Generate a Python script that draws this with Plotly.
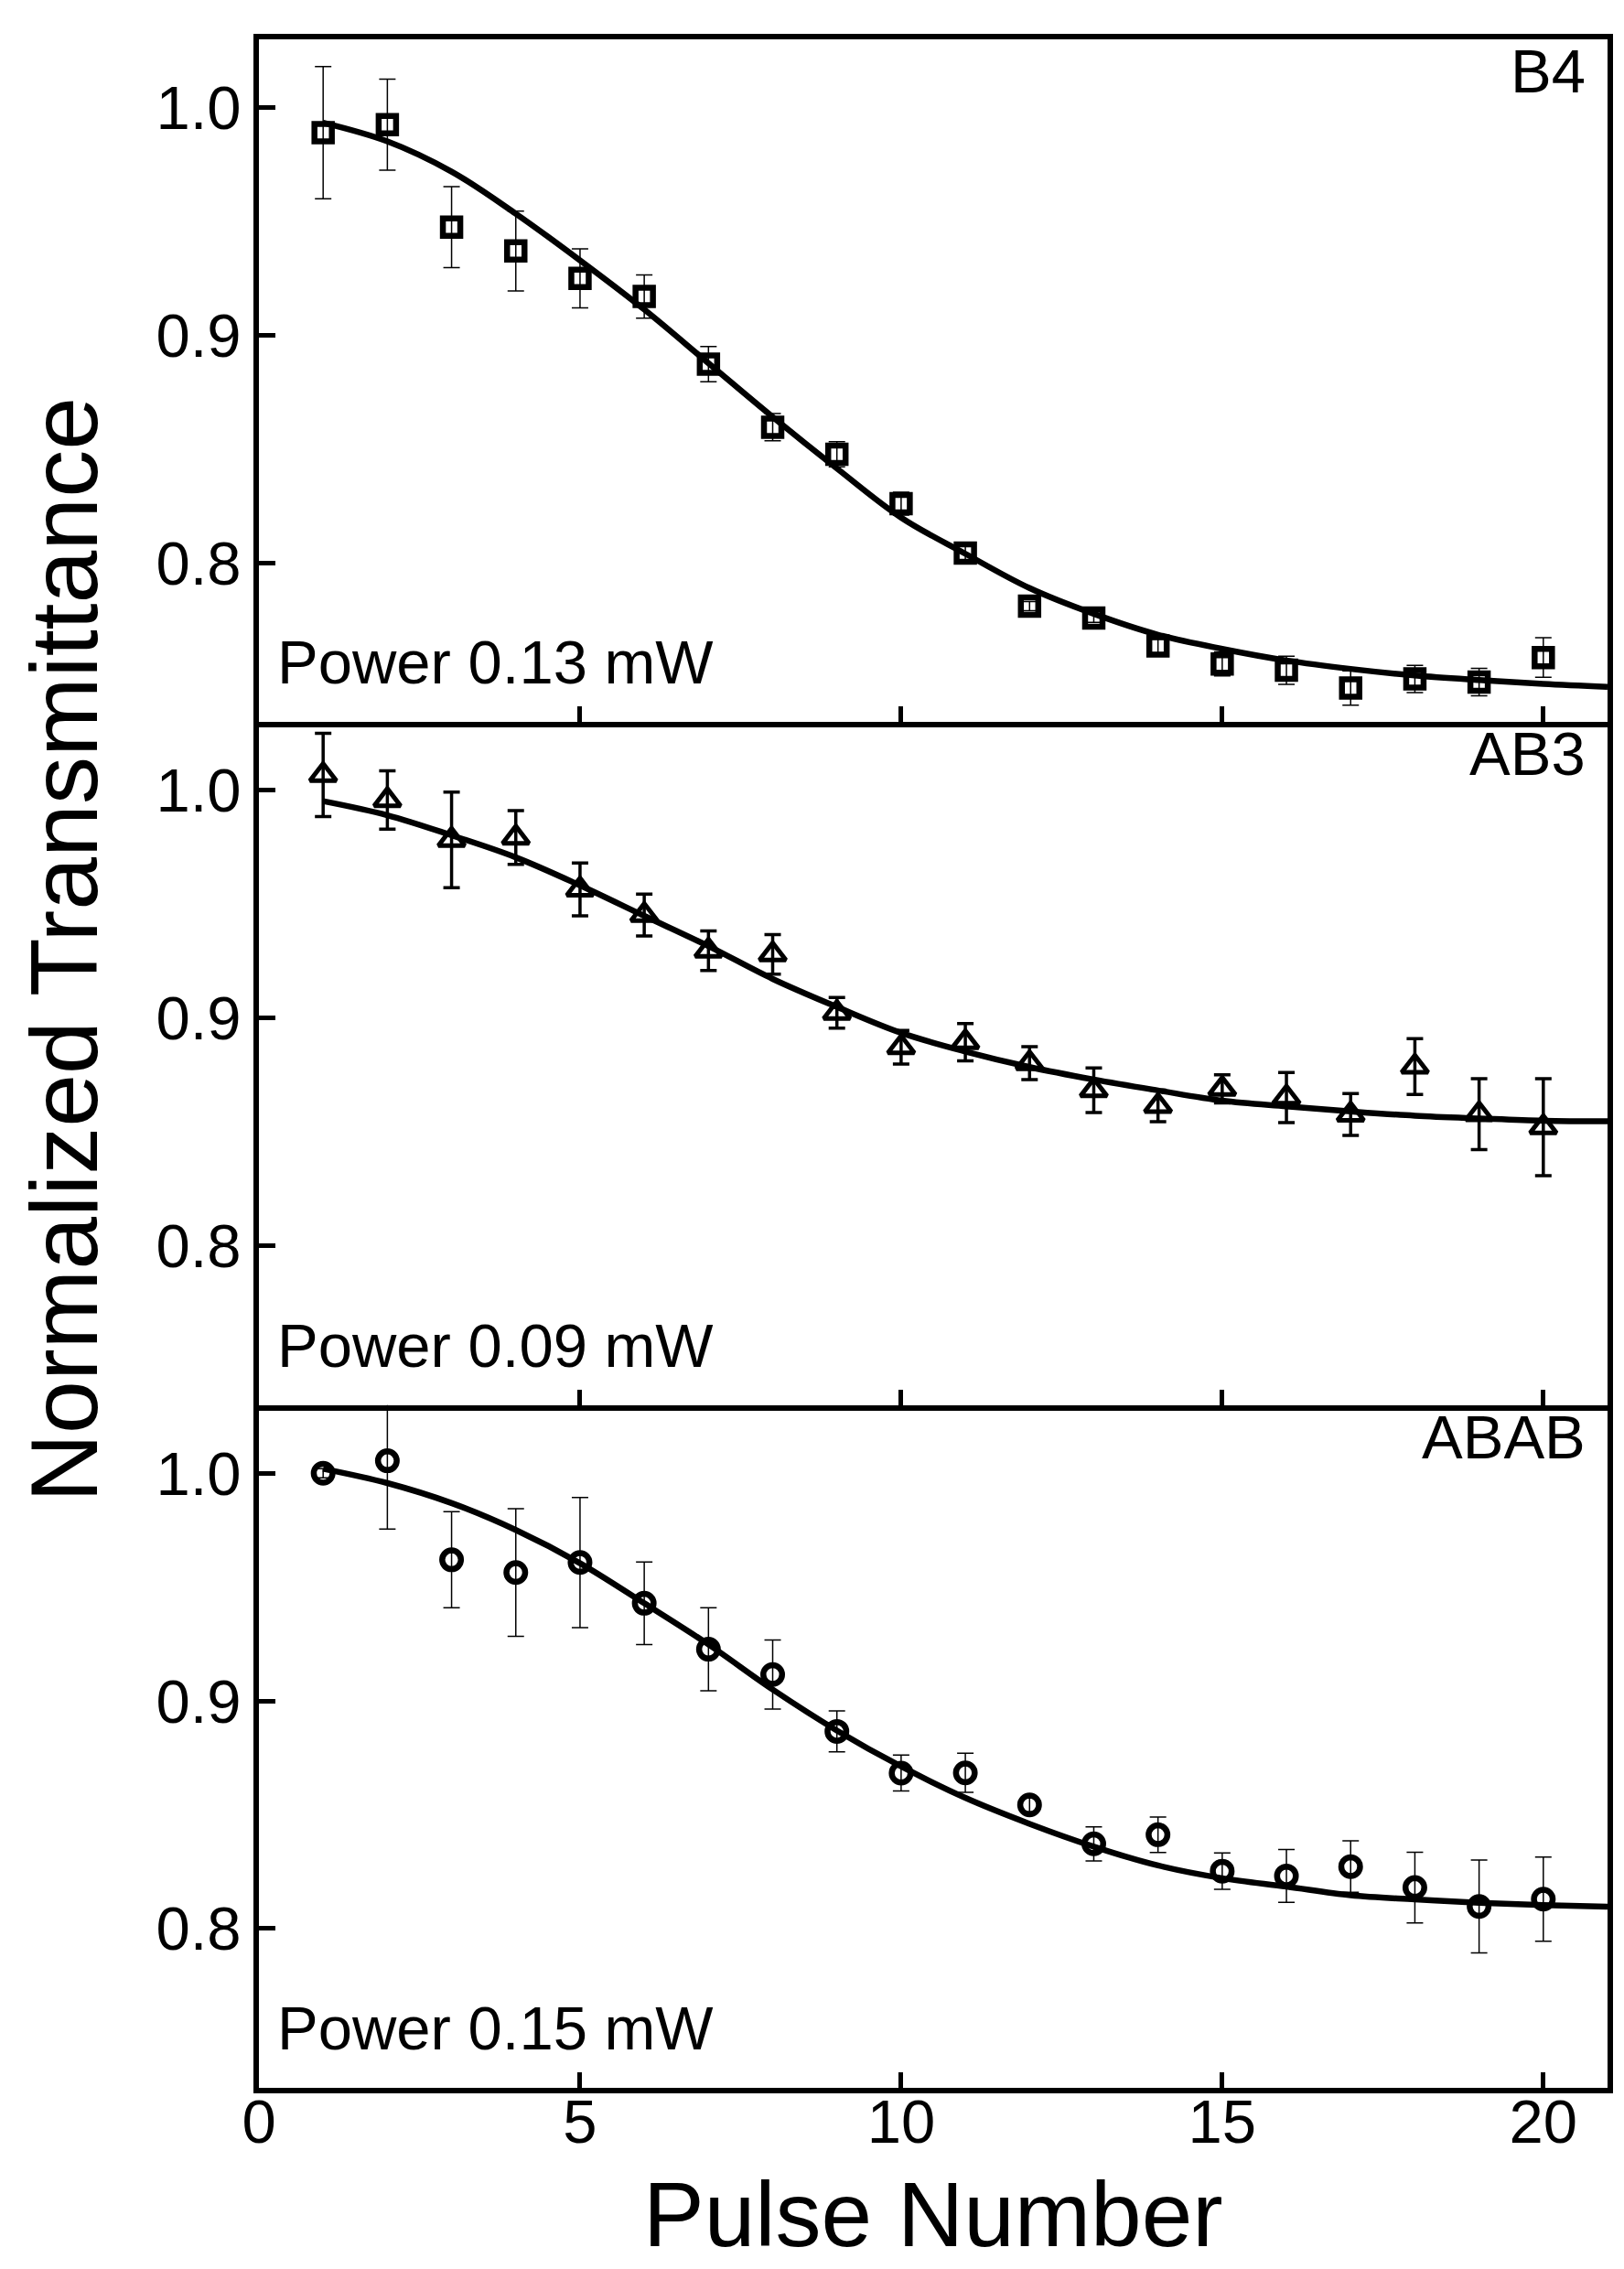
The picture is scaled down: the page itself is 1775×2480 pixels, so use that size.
import plotly.graph_objects as go
from plotly.subplots import make_subplots

# pulse numbers
pulse = list(range(1, 21))

# B4, power 0.13 mW
b4_y = [0.989, 0.9925, 0.9475, 0.937, 0.925, 0.917, 0.8873, 0.8596, 0.8477, 0.826,
        0.8043, 0.781, 0.7758, 0.7635, 0.7556, 0.7528, 0.745, 0.749, 0.7476, 0.7584]
b4_err = [0.029, 0.020, 0.0178, 0.0175, 0.013, 0.0095, 0.0077, 0.006, 0.0055, 0.005,
          0.003, 0.002, 0.002, 0.003, 0.0053, 0.0062, 0.0075, 0.006, 0.006, 0.0087]

# AB3, power 0.09 mW
ab3_y = [1.0068, 0.9958, 0.9783, 0.9793, 0.9565, 0.9453, 0.9296, 0.928, 0.9023, 0.8872,
         0.8894, 0.8802, 0.8683, 0.8614, 0.8689, 0.8651, 0.8576, 0.8787, 0.8578, 0.8521]
ab3_err = [0.0183, 0.0128, 0.021, 0.0118, 0.0116, 0.0092, 0.0087, 0.0087, 0.0067, 0.0074,
           0.0082, 0.0072, 0.0098, 0.0069, 0.0062, 0.011, 0.0092, 0.0123, 0.0156, 0.0213]

# ABAB, power 0.15 mW
abab_y = [1.000, 1.0055, 0.962, 0.9564, 0.9608, 0.9429, 0.9227, 0.9116, 0.8866, 0.8683,
          0.8684, 0.8543, 0.8372, 0.8412, 0.8252, 0.8231, 0.8272, 0.818, 0.8097, 0.8129]
abab_err = [0.002, 0.030, 0.0211, 0.028, 0.0286, 0.0181, 0.0182, 0.0152, 0.009, 0.0079,
            0.0086, 0.003, 0.0075, 0.0078, 0.008, 0.0116, 0.0113, 0.0155, 0.0204, 0.0185]

# fitted curves
fit_x = list(range(1, 22))
b4_fit = [0.9934, 0.9852, 0.9719, 0.9534, 0.9329, 0.9113, 0.8877, 0.8641, 0.8415, 0.8199,
          0.804, 0.7889, 0.7776, 0.7684, 0.7622, 0.7571, 0.7534, 0.7505, 0.7485, 0.7468, 0.7455]
ab3_fit = [0.9953, 0.9891, 0.9803, 0.9706, 0.9583, 0.9449, 0.9316, 0.9172, 0.9049, 0.8935,
           0.8853, 0.8785, 0.873, 0.8682, 0.8637, 0.8612, 0.859, 0.8571, 0.8559, 0.8549, 0.8547]
abab_fit = [1.002, 0.9957, 0.9869, 0.9751, 0.9605, 0.9429, 0.9248, 0.905, 0.887, 0.8712,
            0.8574, 0.846, 0.836, 0.8277, 0.8221, 0.8184, 0.8146, 0.8128, 0.8113, 0.8103, 0.8096]

labels = ["B4", "AB3", "ABAB"]
powers = ["Power 0.13 mW", "Power 0.09 mW", "Power 0.15 mW"]

FONT = "Liberation Sans, Arial, sans-serif"

fig = make_subplots(rows=3, cols=1, shared_xaxes=True, vertical_spacing=0)

# symbol, size, outline width, error bar thickness
panels = [
    (b4_y, b4_err, b4_fit, "square-open", 19, 6.5, 1.5),
    (ab3_y, ab3_err, ab3_fit, "triangle-up-open", 25, 5, 3.5),
    (abab_y, abab_err, abab_fit, "circle-open", 20.5, 6.5, 1.5),
]

for i, (yv, ev, fv, sym, msize, mline, ethick) in enumerate(panels):
    row = i + 1
    xd = "x domain" if row == 1 else "x%d domain" % row
    yd = "y domain" if row == 1 else "y%d domain" % row
    fig.add_trace(go.Scatter(
        x=fit_x, y=fv, mode="lines", line=dict(color="black", width=6.5, shape="spline"),
        showlegend=False), row=row, col=1)
    fig.add_trace(go.Scatter(
        x=pulse, y=yv, mode="markers",
        marker=dict(symbol=sym, size=msize, color="black", line=dict(color="black", width=mline)),
        error_y=dict(type="data", array=ev, visible=True, color="black",
                     thickness=ethick, width=9),
        showlegend=False), row=row, col=1)

    fig.add_annotation(text=labels[i], xref=xd, yref=yd,
                       x=0.985, y=1, xanchor="right", yanchor="top", yshift=5,
                       showarrow=False, font=dict(family=FONT, size=67, color="black"))
    fig.add_annotation(text=powers[i], xref=xd, yref=yd,
                       x=0.012, y=0, xanchor="left", yanchor="bottom", yshift=26,
                       showarrow=False, font=dict(family=FONT, size=67, color="black"))

    fig.update_yaxes(range=[0.73, 1.03], tickvals=[0.8, 0.9, 1.0], tickformat=".1f",
                     ticks="inside", ticklen=18, tickwidth=5, tickcolor="black",
                     showline=True, linewidth=6, linecolor="black", mirror=True,
                     showgrid=False, zeroline=False,
                     tickfont=dict(family=FONT, size=67, color="black"),
                     row=row, col=1)
    # only the top panel mirrors its x line, the others share the line above them
    fig.update_xaxes(range=[0, 21], tick0=0, dtick=5,
                     ticks="inside", ticklen=17, tickwidth=5, tickcolor="black",
                     showline=True, linewidth=6, linecolor="black", mirror=(row == 1),
                     showgrid=False, zeroline=False, showticklabels=(row == 3),
                     ticklabelstandoff=-26,
                     tickfont=dict(family=FONT, size=67, color="black"),
                     row=row, col=1)

fig.add_annotation(text="Normalized Transmittance", xref="paper", yref="paper",
                   x=0, y=0.5556, xanchor="left", yanchor="middle", xshift=-273,
                   textangle=-90, showarrow=False,
                   font=dict(family=FONT, size=104, color="black"))
fig.add_annotation(text="Pulse Number", xref="paper", yref="paper",
                   x=0.5, y=0, xanchor="center", yanchor="top", yshift=-80,
                   showarrow=False, font=dict(family=FONT, size=100, color="black"))

fig.update_layout(width=1775, height=2480, plot_bgcolor="white", paper_bgcolor="white",
                  margin=dict(l=275, r=26, t=35, b=206))

fig.write_html("out.html")
